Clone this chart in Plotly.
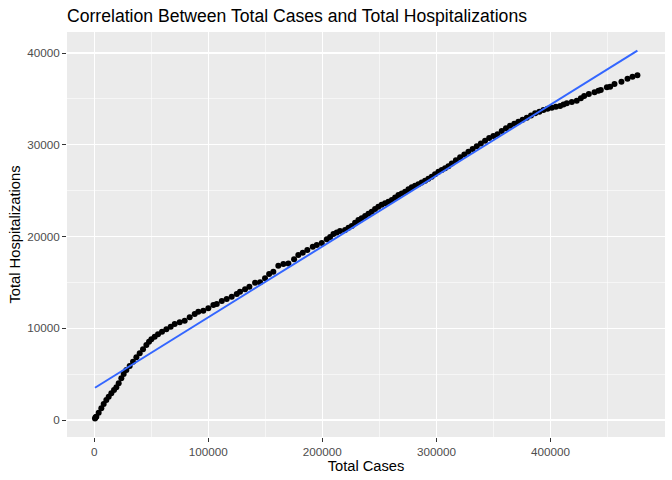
import plotly.graph_objects as go

total_cases = [
    600, 1100, 1780, 3830, 6170, 8220, 10550, 12610, 14940, 17280, 19330, 21380,
    23710, 25760, 28100, 31030, 33950, 36870, 39800, 42720, 45640, 47980, 50030,
    52950, 55880, 59390, 63190, 66990, 70500, 74890, 79270, 83660, 88050, 91200,
    95600, 100000, 104400, 107400, 111800, 116100, 120500, 124900, 127800, 132200,
    136000, 141000, 145400, 149700, 153300, 157000, 161400, 165800, 170200, 175200,
    178900, 182800, 186800, 191600, 195100, 199500, 203900, 206800, 209700, 212600,
    215500, 219900, 222900, 225800, 228700, 231600, 234500, 237500, 240400, 243300,
    246200, 249100, 252000, 255000, 257900, 260900, 263800, 266700, 269600, 272600,
    275500, 278400, 281300, 284200, 287100, 290100, 293000, 295900, 298800, 301800,
    304700, 307600, 310500, 313500, 317100, 320800, 324500, 328100, 331800, 335400,
    339000, 342700, 346300, 350000, 353600, 357300, 361000, 364600, 368300, 371900,
    375600, 379300, 383000, 386600, 390300, 393900, 397500, 401200, 404800, 408500,
    411500, 414400, 418800, 423100, 426700, 429600, 433700, 438700, 442100, 444200,
    449500, 452400, 456200, 462300, 467600, 472000, 476300,
]
total_hosp = [
    170, 300, 363, 799, 1272, 1744, 2180, 2543, 2907, 3270, 3561, 3997,
    4542, 5014, 5450, 5886, 6358, 6831, 7267, 7703, 8175, 8538, 8793,
    9083, 9338, 9628, 9883, 10173, 10464, 10646, 10827, 11191, 11554, 11800,
    11910, 12170, 12540, 12640, 12970, 13190, 13440, 13730, 13990, 14240,
    14530, 14970, 15010, 15440, 15910, 16170, 16820, 17000, 17070, 17510,
    17980, 18240, 18530, 18890, 19080, 19300, 19700, 19950, 20270, 20450,
    20600, 20710, 20950, 21150, 21500, 21800, 22000, 22240, 22480, 22710,
    23000, 23250, 23450, 23620, 23800, 23980, 24250, 24530, 24700, 24890,
    25150, 25360, 25520, 25690, 25900, 26080, 26300, 26520, 26800, 27060,
    27250, 27430, 27650, 27950, 28300, 28650, 28950, 29250, 29550, 29850,
    30150, 30450, 30750, 30950, 31150, 31500, 31800, 32080, 32300, 32520,
    32730, 32950, 33200, 33430, 33600, 33790, 33920, 34040, 34150, 34230,
    34400, 34520, 34660, 34800, 35060, 35320, 35530, 35720, 35890, 35970,
    36260, 36330, 36620, 36880, 37200, 37420, 37570,
]

# Linear fit line (geom_smooth, method = "lm") endpoints
fit_cases = [600, 476300]
fit_hosp = [3520, 40250]

x_ticks = [0, 100000, 200000, 300000, 400000]
y_ticks = [0, 10000, 20000, 30000, 40000]

FONT = "Liberation Sans, Arial, sans-serif"

fig = go.Figure()
fig.add_trace(go.Scatter(
    x=total_cases, y=total_hosp, mode="markers",
    marker=dict(color="black", size=6, line=dict(width=0)),
    showlegend=False, hoverinfo="skip",
))
fig.add_trace(go.Scatter(
    x=fit_cases, y=fit_hosp, mode="lines",
    line=dict(color="#3366FF", width=2),
    showlegend=False, hoverinfo="skip",
))

axis_common = dict(
    showgrid=True, gridcolor="white", gridwidth=1.1,
    zeroline=False, showline=False, automargin=False,
    ticks="outside", ticklen=4, tickwidth=1, tickcolor="#333333",
    tickfont=dict(family=FONT, size=11.7, color="#4D4D4D"),
)

fig.update_layout(
    width=672, height=480,
    paper_bgcolor="white", plot_bgcolor="#EBEBEB",
    margin=dict(l=67, r=7, t=32, b=43, autoexpand=False),
    title=dict(
        text="Correlation Between Total Cases and Total Hospitalizations",
        font=dict(family=FONT, size=17.6, color="black"),
        x=0, xref="paper", xanchor="left",
        y=1 - 16 / 480, yref="container", yanchor="middle",
        automargin=False,
    ),
    xaxis=dict(
        **axis_common,
        range=[-23950, 500500],
        tickvals=x_ticks, ticktext=[str(v) for v in x_ticks],
        minor=dict(tickvals=[50000, 150000, 250000, 350000, 450000],
                   showgrid=True, gridcolor="white", gridwidth=0.55, ticks=""),
        title=dict(text="Total Cases", font=dict(family=FONT, size=14.7, color="black"),
                   standoff=1),
    ),
    yaxis=dict(
        **axis_common,
        range=[-1850, 42290],
        tickvals=y_ticks, ticktext=[str(v) for v in y_ticks],
        minor=dict(tickvals=[5000, 15000, 25000, 35000],
                   showgrid=True, gridcolor="white", gridwidth=0.55, ticks=""),
        title=dict(text="Total Hospitalizations", font=dict(family=FONT, size=14.7, color="black"),
                   standoff=2),
    ),
)

fig.write_html(
    "out.html",
    config={"displayModeBar": False, "staticPlot": True},
    post_script="document.body.style.margin='0';document.body.style.padding='0';",
)
